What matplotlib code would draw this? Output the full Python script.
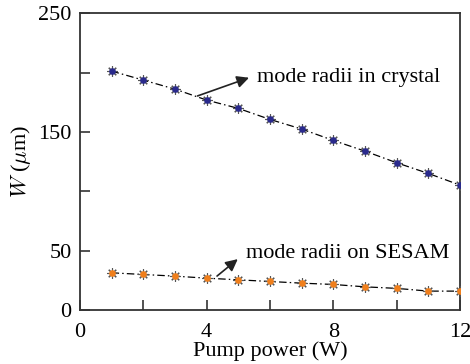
import numpy as np
import matplotlib
matplotlib.use('Agg')
import matplotlib.pyplot as plt

# pump power (W)
power = [1, 2, 3, 4, 5, 6, 7, 8, 9, 10, 11, 12]
# mode radii (um)
radii_crystal = [201.2, 193.6, 186.0, 176.8, 169.8, 160.5, 152.4, 142.8, 133.8, 124.0, 115.0, 105.2]
radii_sesam = [31.4, 30.0, 28.6, 26.9, 25.5, 24.1, 22.7, 21.6, 19.6, 18.3, 16.0, 16.0]

x_ticks = [0, 2, 4, 6, 8, 10, 12]
x_labels = ['0', '', '4', '', '8', '', '12']
y_ticks = [0, 50, 100, 150, 200, 250]
y_labels = ['0', '50', '', '150', '', '250']

plt.rcParams['font.family'] = ['Liberation Serif', 'DejaVu Serif']
plt.rcParams['mathtext.fontset'] = 'cm'
plt.rcParams['font.size'] = 16

fig = plt.figure(figsize=(4.7, 3.64), dpi=100)
ax = fig.add_axes([0.170, 0.148, 0.809, 0.816])

edge = '#333333'

def draw_series(y, face):
    ax.plot(power, y, color='black', linestyle=(0, (6, 2.5, 1.2, 2.5)), linewidth=0.9, zorder=2)
    # asterisk outline plus coloured centre
    ax.plot(power, y, linestyle='none', marker=(8, 2, 0), markersize=7.5,
            markeredgecolor='#555555', markeredgewidth=0.8, zorder=3)
    ax.plot(power, y, linestyle='none', marker='o', markersize=3.8,
            markerfacecolor=face, markeredgecolor=face, zorder=4)

draw_series(radii_crystal, '#2a2a8c')
draw_series(radii_sesam, '#f07f1c')

ax.annotate('', xy=(5.42, 196.4), xytext=(3.63, 179.5),
            arrowprops=dict(arrowstyle='-|>', color='#222222', lw=1.2, mutation_scale=18))
ax.text(5.58, 195.9, 'mode radii in crystal', va='center', ha='left', fontsize=16)

ax.annotate('', xy=(5.05, 44.4), xytext=(4.26, 27.2),
            arrowprops=dict(arrowstyle='-|>', color='#222222', lw=1.2, mutation_scale=18))
ax.text(5.25, 47.7, 'mode radii on SESAM', va='center', ha='left', fontsize=16)

ax.set_xlim(0, 12)
ax.set_ylim(0, 250)
ax.set_xticks(x_ticks)
ax.set_xticklabels(x_labels)
ax.set_yticks(y_ticks)
ax.set_yticklabels(y_labels)
ax.tick_params(direction='in', length=7, width=1.2, color=edge, pad=6, labelsize=16)
ax.tick_params(axis='x', pad=9)

for s in ax.spines.values():
    s.set_color(edge)
    s.set_linewidth(1.3)

ax.set_xlabel('Pump power (W)', fontsize=16, labelpad=0)
ax.set_ylabel(r'$W$ ($\mu$m)', fontsize=16, labelpad=4)

fig.savefig('out.png', dpi=100)
